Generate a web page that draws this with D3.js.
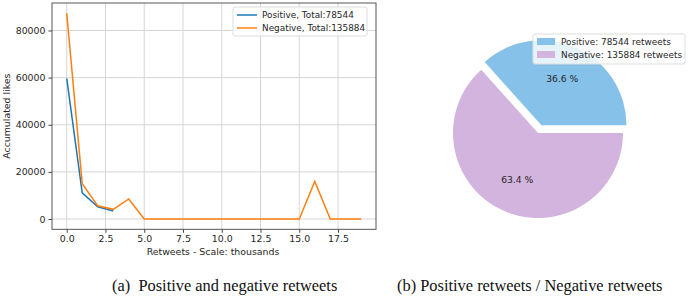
<!DOCTYPE html>
<html>
<head>
<meta charset="utf-8">
<script src="https://cdn.jsdelivr.net/npm/d3@7"></script>
<style>
  body { margin: 0; background: #fff; }
  text { font-family: "DejaVu Sans", sans-serif; }
  text.cap { font-family: "Liberation Serif", "Times New Roman", serif; }
</style>
</head>
<body>
<div id="chart"></div>
<script>
// retweets (thousands) on x, accumulated likes on y
const positiveX = [0, 1, 2, 3];
const positiveLikes = [59700, 11100, 5200, 3400];
const negativeX = [0, 1, 2, 3, 4, 5, 6, 7, 8, 9, 10, 11, 12, 13, 14, 15, 16, 17, 18, 19];
const negativeLikes = [87300, 15000, 5600, 4100, 8500, 0, 0, 0, 0, 0, 0, 0, 0, 0, 0, 0, 15900, 0, 0, 0];
const lineLabels = ["Positive, Total:78544", "Negative, Total:135884"];
const xTicks = [0, 2.5, 5, 7.5, 10, 12.5, 15, 17.5];
const yTicks = [0, 20000, 40000, 60000, 80000];

const pieLabels = ["Positive: 78544 retweets", "Negative: 135884 retweets"];
const pieValues = [78544, 135884];
const captions = ["(a)  Positive and negative retweets", "(b) Positive retweets / Negative retweets"];

const W = 690, H = 299;
const svg = d3.select("#chart").append("svg").attr("width", W).attr("height", H);

// ---- left: line chart ----
const pLeft = 52, pRight = 376, pTop = 3, pBottom = 229.3;
const x = d3.scaleLinear().domain([-0.95, 19.95]).range([pLeft, pRight]);
const y = d3.scaleLinear().domain([-4365, 91665]).range([pBottom, pTop]);

const g = svg.append("g");

g.append("g").selectAll("line").data(xTicks).enter().append("line")
  .attr("x1", d => x(d)).attr("x2", d => x(d)).attr("y1", pTop).attr("y2", pBottom)
  .attr("stroke", "#d6d6d6").attr("stroke-width", 1);
g.append("g").selectAll("line").data(yTicks).enter().append("line")
  .attr("y1", d => y(d)).attr("y2", d => y(d)).attr("x1", pLeft).attr("x2", pRight)
  .attr("stroke", "#d6d6d6").attr("stroke-width", 1);

const xAxis = g.append("g").attr("transform", `translate(0,${pBottom})`)
  .call(d3.axisBottom(x).tickValues(xTicks).tickFormat(d3.format(".1f")).tickSizeOuter(0).tickSize(3.5).tickPadding(3));
const yAxis = g.append("g").attr("transform", `translate(${pLeft},0)`)
  .call(d3.axisLeft(y).tickValues(yTicks).tickFormat(d => d).tickSizeOuter(0).tickSize(3.5).tickPadding(3));
[xAxis, yAxis].forEach(a => {
  a.select(".domain").remove();
  a.selectAll("text").attr("font-size", 9.4).attr("fill", "#262626");
  a.selectAll("line").attr("stroke", "#444");
});

g.append("rect").attr("x", pLeft).attr("y", pTop).attr("width", pRight - pLeft).attr("height", pBottom - pTop)
  .attr("fill", "none").attr("stroke", "#444").attr("stroke-width", 0.9);

const line = d3.line().x(d => x(d[0])).y(d => y(d[1]));
g.append("path").datum(positiveX.map((v, i) => [v, positiveLikes[i]]))
  .attr("d", line).attr("fill", "none").attr("stroke", "#1f77b4").attr("stroke-width", 1.5);
g.append("path").datum(negativeX.map((v, i) => [v, negativeLikes[i]]))
  .attr("d", line).attr("fill", "none").attr("stroke", "#ff7f0e").attr("stroke-width", 1.5);

g.append("text").attr("x", (pLeft + pRight) / 2 - 1).attr("y", 255).attr("text-anchor", "middle")
  .attr("font-size", 9.4).attr("fill", "#262626").text("Retweets - Scale: thousands");
g.append("text").attr("transform", `translate(10,${(pTop + pBottom) / 2}) rotate(-90)`).attr("text-anchor", "middle")
  .attr("font-size", 9.4).attr("fill", "#262626").text("Accumulated likes");

// legend
const lg = g.append("g").attr("transform", "translate(233,7)");
lg.append("rect").attr("width", 134).attr("height", 29).attr("rx", 2)
  .attr("fill", "white").attr("fill-opacity", 0.8).attr("stroke", "#ddd");
["#1f77b4", "#ff7f0e"].forEach((c, i) => {
  lg.append("line").attr("x1", 4).attr("x2", 24).attr("y1", 8 + i * 13).attr("y2", 8 + i * 13)
    .attr("stroke", c).attr("stroke-width", 1.5);
  lg.append("text").attr("x", 29).attr("y", 11.2 + i * 13).attr("font-size", 8.9).attr("fill", "#262626")
    .text(lineLabels[i]);
});

// ---- right: pie ----
const pieColors = ["#85C1E9", "#D2B4DE"];
const cx = 538, cy = 133, R = 85, explode = 0.1 * R;
// matplotlib starts at 3 o'clock and goes counter-clockwise
const pie = d3.pie().sort(null).startAngle(Math.PI / 2).endAngle(Math.PI / 2 - 2 * Math.PI)(pieValues);
const arc = d3.arc().innerRadius(0).outerRadius(R);
const pg = svg.append("g").attr("transform", `translate(${cx},${cy})`);
pie.forEach((p, i) => {
  const mid = (p.startAngle + p.endAngle) / 2;
  const off = i === 0 ? explode : 0;
  const dx = Math.sin(mid) * off, dy = -Math.cos(mid) * off;
  const s = pg.append("g").attr("transform", `translate(${dx},${dy})`);
  s.append("path").attr("d", arc(p)).attr("fill", pieColors[i]);
  const pct = (100 * pieValues[i] / d3.sum(pieValues)).toFixed(1) + " %";
  s.append("text").attr("x", Math.sin(mid) * 0.6 * R).attr("y", -Math.cos(mid) * 0.6 * R)
    .attr("dy", "0.35em").attr("text-anchor", "middle").attr("font-size", 9.2).attr("fill", "#262626").text(pct);
});

const pl = svg.append("g").attr("transform", "translate(533,34)");
pl.append("rect").attr("width", 152).attr("height", 30).attr("rx", 2)
  .attr("fill", "white").attr("fill-opacity", 0.8).attr("stroke", "#ddd");
pieColors.forEach((c, i) => {
  pl.append("rect").attr("x", 4).attr("y", 4 + i * 13).attr("width", 18).attr("height", 7).attr("fill", c);
  pl.append("text").attr("x", 28).attr("y", 11 + i * 13).attr("font-size", 8.9).attr("fill", "#262626")
    .text(pieLabels[i]);
});

// captions
svg.selectAll(".cap").data(captions).enter().append("text").attr("class", "cap")
  .attr("x", (d, i) => i === 0 ? 112 : 397).attr("y", 291)
  .attr("font-size", 16.4).attr("fill", "#111")
  .style("white-space", "pre").text(d => d);
</script>
</body>
</html>
